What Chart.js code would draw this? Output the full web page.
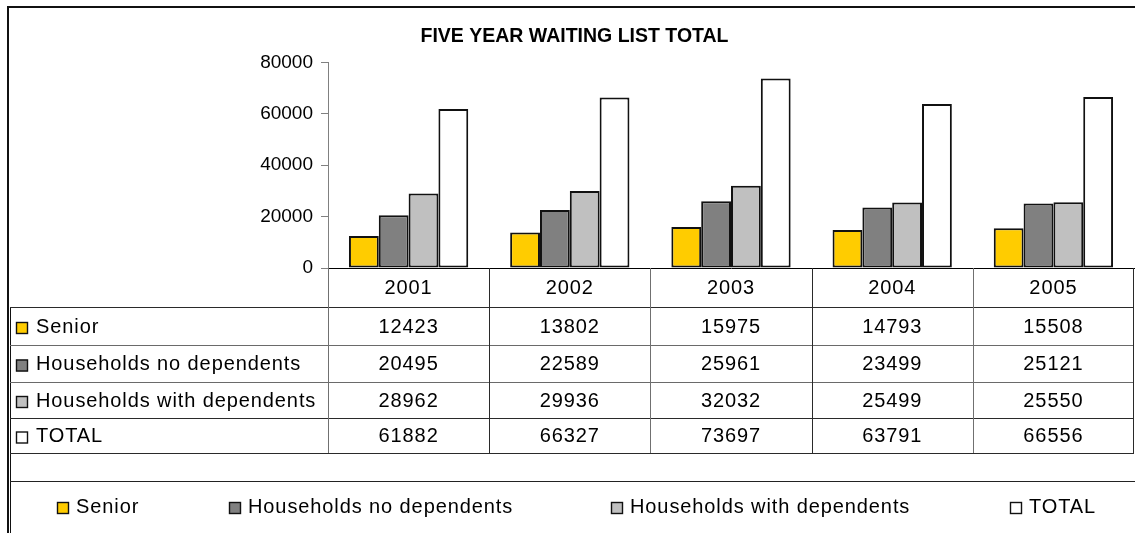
<!DOCTYPE html>
<html>
<head>
<meta charset="utf-8">
<script src="https://cdn.jsdelivr.net/npm/chart.js@4/dist/chart.umd.min.js"></script>
<style>
  html, body { margin: 0; padding: 0; background: #fff; }
  canvas { display: block; }
</style>
</head>
<body>
<canvas id="waiting" width="1135" height="533"></canvas>
<script>
const years = ['2001', '2002', '2003', '2004', '2005'];
const senior = [12423, 13802, 15975, 14793, 15508];
const noDependents = [20495, 22589, 25961, 23499, 25121];
const withDependents = [28962, 29936, 32032, 25499, 25550];
const totals = [61882, 66327, 73697, 63791, 66556];
const seriesNames = ['Senior', 'Households no dependents', 'Households with dependents', 'TOTAL'];
const seriesColors = ['#FFCC00', '#808080', '#C0C0C0', '#FFFFFF'];
const yTicks = [0, 20000, 40000, 60000, 80000];

const FONT = "'Liberation Sans', Arial, sans-serif";

// row lines of the data table under the plot (header row starts at chart bottom)
const rowLines = [307, 345, 382, 418, 453];
const legendLine = 481;
const legendY = 507;
const legendX = [57, 229, 611, 1010];

function marker(ctx, x, y, color) {
    ctx.fillStyle = color;
    ctx.fillRect(x, y - 6, 12, 12);
    ctx.strokeStyle = '#111';
    ctx.lineWidth = 1.4;
    ctx.strokeRect(x + 0.5, y - 5.5, 11, 11);
}

const tablePlugin = {
    id: 'dataTable',
    afterDraw(chart) {
        const ctx = chart.ctx;
        const xs = chart.scales.x;
        const area = chart.chartArea;
        const n = chart.data.labels.length;
        const colW = (area.right - area.left) / n;
        ctx.save();

        // outer frame
        ctx.fillStyle = '#111';
        ctx.fillRect(7, 6, 1135, 2);
        ctx.fillRect(7, 6, 2, 533);
        ctx.fillRect(10, rowLines[0], 1, 533 - rowLines[0]);

        // horizontal lines
        rowLines.forEach((y, i) => {
            ctx.fillStyle = (i === 1 || i === 2) ? '#6a6a6a' : '#2a2a2a';
            ctx.fillRect(10, y, area.right - 10, 1);
        });
        ctx.fillStyle = '#222';
        ctx.fillRect(10, legendLine, 1135, 1);

        // vertical lines
        for (let i = 0; i <= n; i++) {
            const x = Math.round(area.left + i * colW);
            ctx.fillStyle = i % 2 ? '#2a2a2a' : '#707070';
            ctx.fillRect(x - (i === n ? 1 : 0), area.bottom, 1, rowLines[rowLines.length - 1] - area.bottom);
        }

        ctx.font = '20px ' + FONT;
        ctx.letterSpacing = '0.9px';
        ctx.fillStyle = '#000';
        ctx.textBaseline = 'middle';

        // header years
        ctx.textAlign = 'center';
        chart.data.labels.forEach((lab, i) => {
            ctx.fillText(lab, xs.getPixelForValue(i), (area.bottom + rowLines[0]) / 2 + 1);
        });

        // data rows
        chart.data.datasets.forEach((ds, r) => {
            const cy = (rowLines[r] + rowLines[r + 1]) / 2 + 1;
            ctx.textAlign = 'left';
            marker(ctx, 16, cy + 1, ds.backgroundColor);
            ctx.fillStyle = '#000';
            ctx.fillText(ds.label, 36, cy);
            ctx.textAlign = 'center';
            ds.data.forEach((v, i) => {
                ctx.fillText(String(v), xs.getPixelForValue(i), cy);
            });
        });

        // legend
        ctx.textAlign = 'left';
        chart.data.datasets.forEach((ds, i) => {
            marker(ctx, legendX[i], legendY + 1, ds.backgroundColor);
            ctx.fillStyle = '#000';
            ctx.fillText(ds.label, legendX[i] + 19, legendY);
        });
        ctx.restore();
    }
};

const datasets = [senior, noDependents, withDependents, totals].map((d, i) => ({
    label: seriesNames[i],
    data: d,
    backgroundColor: seriesColors[i],
    borderColor: '#111',
    borderWidth: 2,
    borderSkipped: false,
    categoryPercentage: 0.74,
    barPercentage: 1.0
}));

new Chart(document.getElementById('waiting'), {
    type: 'bar',
    data: { labels: years, datasets: datasets },
    options: {
        responsive: false,
        animation: false,
        devicePixelRatio: 1,
        layout: { padding: { left: 15, right: 1, top: 0, bottom: 265 } },
        plugins: {
            legend: { display: false },
            tooltip: { enabled: false },
            title: {
                display: true,
                text: 'FIVE YEAR WAITING LIST TOTAL',
                color: '#000',
                font: { family: FONT, size: 19.5, weight: 'bold' },
                padding: { top: 25, bottom: 14 }
            }
        },
        scales: {
            x: {
                grid: { display: false },
                border: { display: true, color: '#000', width: 1 },
                ticks: { display: false },
                afterFit(scale) { scale.height = 0; }
            },
            y: {
                min: yTicks[0],
                max: yTicks[yTicks.length - 1],
                afterBuildTicks(scale) { scale.ticks = yTicks.map(v => ({ value: v })); },
                grid: { drawOnChartArea: false, drawTicks: true, tickLength: 7, color: '#808080' },
                border: { display: true, color: '#808080', width: 1 },
                ticks: {
                    color: '#000',
                    padding: 8,
                    font: { family: FONT, size: 19 },
                    callback: v => String(v)
                },
                afterFit(scale) { scale.width = 313; }
            }
        }
    },
    plugins: [tablePlugin]
});
</script>
</body>
</html>
